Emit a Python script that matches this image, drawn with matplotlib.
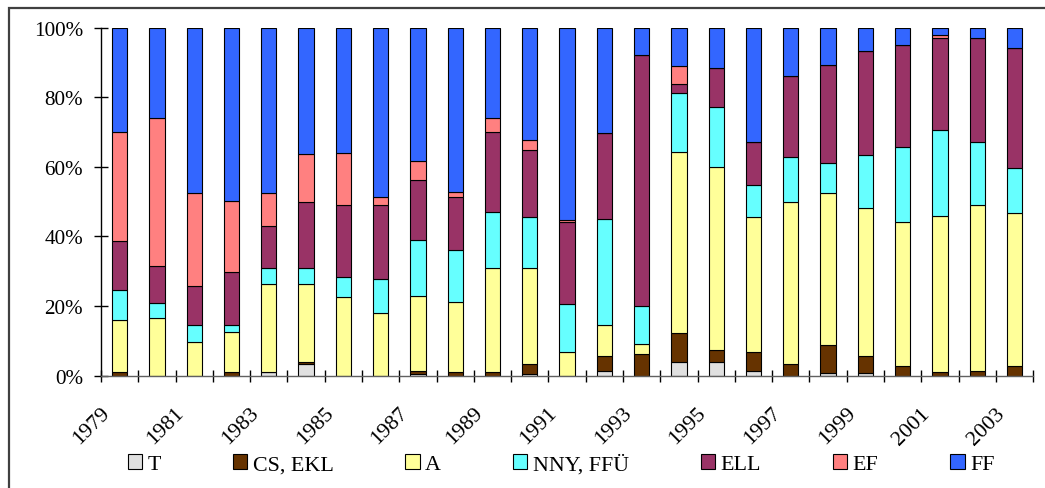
import numpy as np
from matplotlib import pyplot as plt
from matplotlib import patches
from matplotlib import transforms

plt.rcParams['font.family'] = ['Liberation Serif', 'DejaVu Serif']

years = list(range(1979, 2004))

# shares in percent
t_share   = [0, 0, 0, 0, 1.0, 3.3, 0, 0, 0.5, 0, 0, 0.6, 0, 1.4, 0, 3.8, 3.8, 1.4, 0, 0.9, 0.9, 0, 0, 0, 0]
cs_ekl    = [1.0, 0, 0, 1.0, 0, 0.6, 0, 0, 0.9, 1.0, 1.0, 2.7, 0, 4.3, 6.2, 8.4, 3.5, 5.4, 3.3, 7.8, 4.8, 2.9, 1.0, 1.4, 2.9]
a_share   = [15.0, 16.5, 9.6, 11.5, 25.3, 22.4, 22.6, 18.1, 21.5, 20.1, 29.8, 27.5, 6.7, 8.9, 2.9, 52.1, 52.6, 38.7, 46.6, 43.7, 42.6, 41.1, 45.0, 47.5, 43.7]
nny_ffu   = [8.7, 4.5, 5.0, 2.1, 4.5, 4.5, 5.8, 9.7, 16.2, 15.0, 16.1, 14.7, 13.8, 30.5, 10.8, 17.0, 17.4, 9.3, 12.8, 8.7, 15.0, 21.6, 24.6, 18.3, 13.1]
ell_share = [14.0, 10.6, 11.1, 15.3, 12.3, 19.1, 20.6, 21.2, 17.2, 15.2, 23.1, 19.2, 23.6, 24.5, 72.3, 2.6, 11.0, 12.3, 23.5, 28.1, 29.9, 29.5, 26.5, 29.9, 34.5]
ef_share  = [31.3, 42.4, 26.7, 20.4, 9.3, 13.7, 15.1, 2.3, 5.5, 1.5, 3.9, 3.1, 0.5, 0, 0, 5.0, 0, 0, 0, 0, 0, 0, 0.7, 0, 0]
ff_share  = [30.0, 26.0, 47.6, 49.7, 47.6, 36.4, 35.9, 48.7, 38.2, 47.2, 26.1, 32.2, 55.4, 30.4, 7.8, 11.1, 11.7, 32.9, 13.8, 10.8, 6.8, 4.9, 2.2, 2.9, 5.8]

labels = ["T", "CS, EKL", "A", "NNY, FFÜ", "ELL", "EF", "FF"]
series = [t_share, cs_ekl, a_share, nny_ffu, ell_share, ef_share, ff_share]
colors = ["#E0E0E0", "#663300", "#FFFF99", "#66FFFF", "#993366", "#FF8080", "#3366FF"]

fig = plt.figure(figsize=(10.45, 4.89), dpi=100)
ax = fig.add_axes([0.0967, 0.2297, 0.8919, 0.712])

x = np.arange(len(years))
data = np.array(series, dtype=float)
data = data / data.sum(axis=0) * 100  # 100% stacked
bottom = np.zeros(len(years))
for vals, lab, col in zip(data, labels, colors):
    ax.bar(x, vals, 0.41, bottom=bottom, color=col, edgecolor="black",
           linewidth=0.8, label=lab)
    bottom += vals

ax.set_xlim(-0.5, len(years) - 0.5)
ax.set_ylim(0, 100)
ax.spines['top'].set_visible(False)
ax.spines['right'].set_visible(False)
ax.spines['left'].set_linewidth(1)
ax.spines['bottom'].set_linewidth(1)
ax.spines['bottom'].set_color("#606060")

ax.set_yticks(range(0, 101, 20))
ax.set_yticklabels([f"{v}%" for v in range(0, 101, 20)])
ax.tick_params(axis='y', direction='inout', length=10, width=1, pad=8, labelsize=15.2)

ax.set_xticks(x[::2])
ax.set_xticklabels([str(y) for y in years[::2]], rotation=45, ha='right', va='top',
                   rotation_mode='anchor', fontsize=15.8)
ax.tick_params(axis='x', which='major', length=0, pad=20)
shift = transforms.ScaledTranslation(-14 / 72, 0, fig.dpi_scale_trans)
for lbl in ax.get_xticklabels():
    lbl.set_transform(lbl.get_transform() + shift)
ax.set_xticks(np.arange(-0.5, len(years)), minor=True)
ax.tick_params(axis='x', which='minor', direction='inout', length=9, width=1)

fig.legend(loc='center', bbox_to_anchor=(0.537, 0.049), ncol=7, frameon=False,
           fontsize=15.8, handlelength=0.65, handleheight=0.65, handletextpad=0.25,
           columnspacing=3.28, borderpad=0)

# outer chart frame
fig.add_artist(patches.Rectangle((9 / 1045, -0.1), 1.2, 1.1 - 9 / 489,
                                 transform=fig.transFigure, fill=False,
                                 edgecolor="#404040", linewidth=1.6, clip_on=False))

plt.savefig("out.png", dpi=100)
plt.close()
